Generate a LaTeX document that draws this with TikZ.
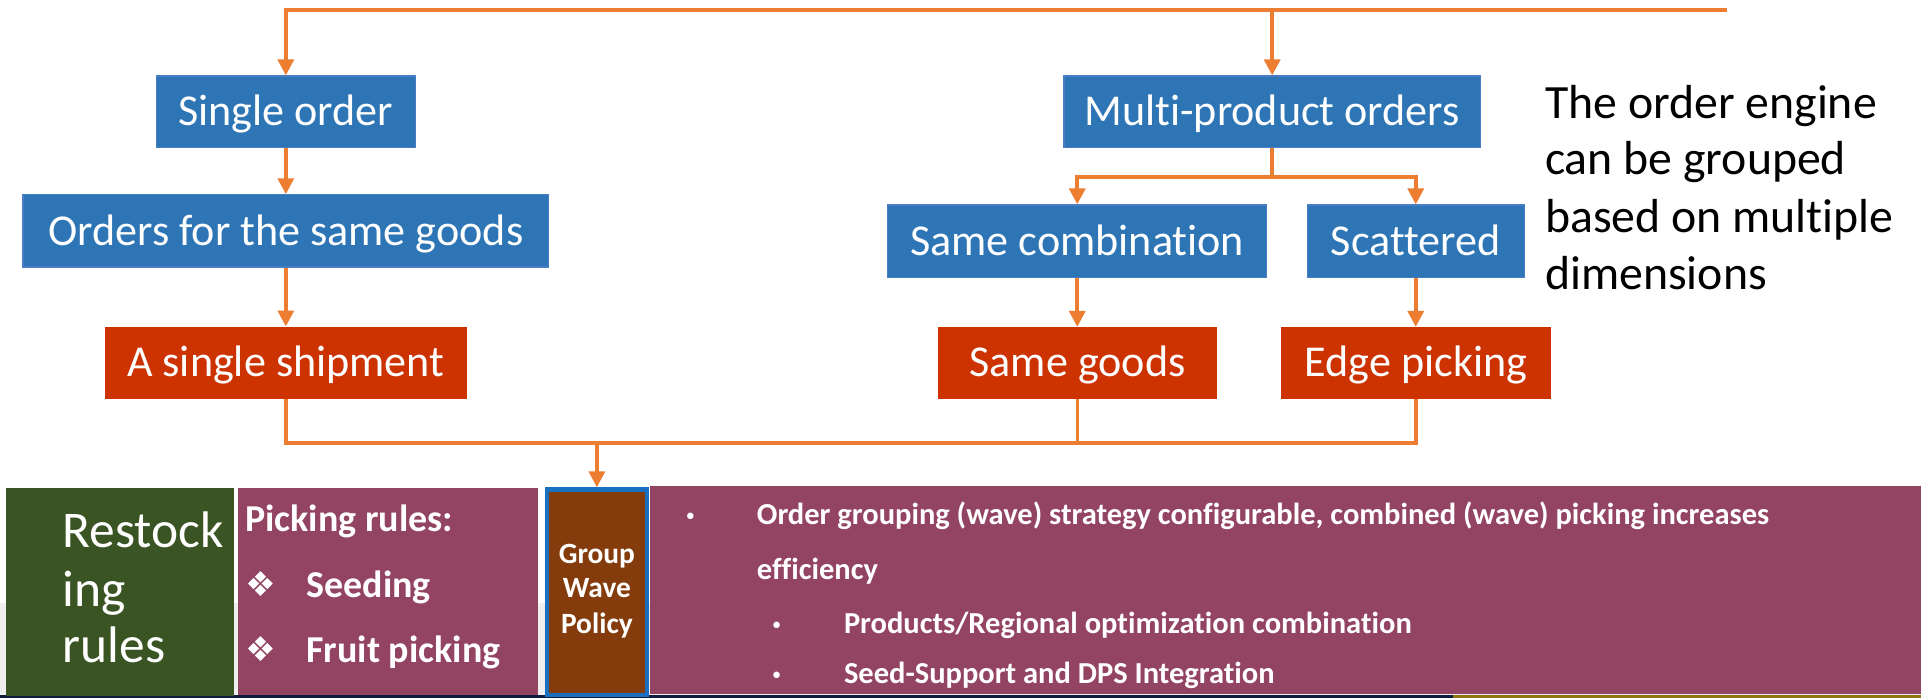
\documentclass[tikz,border=0pt]{standalone}
\usepackage{fontspec}
\setmainfont{Carlito}[Ligatures=CommonOff]
\newfontfamily\symfont{DejaVu Sans}
\usetikzlibrary{arrows.meta}
\definecolor{cblue}{HTML}{2E75B6}
\definecolor{cblueedge}{HTML}{4A7EC4}
\definecolor{cred}{HTML}{CC3300}
\definecolor{corange}{HTML}{ED7D31}
\definecolor{cgreen}{HTML}{3A5424}
\definecolor{cpurple}{HTML}{934462}
\definecolor{cbrown}{HTML}{843C0C}
\definecolor{cbrownedge}{HTML}{1A6FBF}
\definecolor{cnavy}{HTML}{0F1B3C}
\definecolor{cgold}{HTML}{8F7410}
\definecolor{cgray}{HTML}{EFEFEF}
\tikzset{
  boxtext/.style={text=white, font=\fontsize{36}{43}\selectfont, text height=29pt, text depth=6pt, inner sep=0pt},
  bluebox/.style={boxtext, fill=cblue, draw=cblueedge, line width=1pt},
  redbox/.style={boxtext, fill=cred},
  conn/.style={draw=corange, line width=2.9pt},
  arr/.style={conn, -{Triangle[length=13pt,width=13pt]}},
  panel/.style={inner sep=0pt, anchor=north west},
  wtext/.style={text=white, inner sep=0pt, anchor=base west},
  btext/.style={text=black, inner sep=0pt, anchor=base west, font=\fontsize{39}{47}\selectfont},
  bul/.style={text=white, inner sep=0pt, anchor=center, font=\fontsize{15}{18}\selectfont},
}
\begin{document}
\begin{tikzpicture}[x=1pt,y=-1pt]
\useasboundingbox (0,0) rectangle (1568,570);
% background strips
\fill[cgray] (0,492) rectangle (1568,567.5);
\fill[cnavy] (0,567.5) rectangle (1186,570);
\fill[cgold] (1186,567.5) rectangle (1568,570);

% flow boxes
\node[bluebox, minimum width=211.5pt, minimum height=58.5pt] (so) at (233.3,91.3) {Single order};
\node[bluebox, minimum width=429pt, minimum height=59pt] (og) at (233.3,188.5) {Orders for the same goods};
\node[redbox, minimum width=295pt, minimum height=58.7pt] (ss) at (233.3,296) {A single shipment};
\node[bluebox, minimum width=340pt, minimum height=58.5pt] (mp) at (1038.4,91.3) {Multi-product orders};
\node[bluebox, minimum width=309.5pt, minimum height=59pt] (sc) at (879.3,196.8) {Same combination};
\node[bluebox, minimum width=177pt, minimum height=59pt] (sca) at (1155.6,196.8) {Scattered};
\node[redbox, minimum width=227pt, minimum height=58.4pt] (sg) at (879.5,296.2) {Same goods};
\node[redbox, minimum width=220.4pt, minimum height=58.4pt] (ep) at (1155.8,296.2) {Edge picking};

% side text
\node[btext] (t1) at (1261,96.6) {The order engine};
\node[btext] (t2) at (1261,142.8) {can be grouped};
\node[btext] (t3) at (1261,189.6) {based on multiple};
\node[btext] (t4) at (1261,236.7) {dimensions};

% bottom panels
\node[panel, fill=cgreen, minimum width=186.6pt, minimum height=169pt] (rs) at (4.4,398.5) {};
\node[panel, fill=cpurple, minimum width=245pt, minimum height=168.8pt] (pr) at (194,398.5) {};
\node[panel, fill=cpurple, minimum width=1038pt, minimum height=170pt] (og2) at (530,396.5) {};
\node[inner sep=0pt, fill=cbrown, draw=cbrownedge, line width=3.5pt, minimum width=82pt, minimum height=167.8pt] (gwp) at (487.2,483.4) {};

% connectors
\coordinate (topR) at (1410,8.2);
\draw[arr] (topR) -| (so.north);
\draw[arr] (mp.north |- topR) -- (mp.north);
\draw[arr] (so.south) -- (so.south |- og.north);
\draw[arr] (og.south) -- (og.south |- ss.north);
\draw[arr] (mp.south) -- ++(0,23.6) -| (sc.north);
\draw[arr] (mp.south) -- ++(0,23.6) -| (sca.north);
\draw[arr] (sc.south) -- (sc.south |- sg.north);
\draw[arr] (sca.south) -- (sca.south |- ep.north);
\coordinate (j) at (487.2,361.8);
\draw[conn] (ss.south) |- (j) -| (ep.south);
\draw[conn] (sg.south) -- (sg.south |- j);
\draw[arr] (j) -- (gwp.north);

% panel texts
\begin{scope}[font=\fontsize{42}{47}\selectfont]
\node[wtext] (r1) at (51,447) {Restock};
\node[wtext] (r2) at (51,495) {ing};
\node[wtext] (r3) at (51,541) {rules};
\end{scope}
\begin{scope}[font=\fontsize{31}{37}\selectfont\bfseries]
\node[wtext] (p0) at (200,434) {Picking rules:};
\node[wtext, font=\fontsize{28}{32}\selectfont\symfont] (p1b) at (200,487) {❖};
\node[wtext] (p1) at (250,488) {Seeding};
\node[wtext, font=\fontsize{28}{32}\selectfont\symfont] (p2b) at (200,540) {❖};
\node[wtext] (p2) at (250,541) {Fruit picking};
\end{scope}
\begin{scope}[font=\fontsize{24}{28}\selectfont\bfseries]
\node[wtext, anchor=base] (g1) at (487.2,460) {Group};
\node[wtext, anchor=base] (g2) at (487.2,488) {Wave};
\node[wtext, anchor=base] (g3) at (487.2,517) {Policy};
\end{scope}
\node[bul] (b1) at (563.5,422.5) {•};
\node[bul] (b2) at (634,511) {•};
\node[bul] (b3) at (634,551.8) {•};
\begin{scope}[font=\fontsize{24.9}{30}\selectfont\bfseries]
\node[wtext] (l1) at (617.6,428.5) {Order grouping (wave) strategy configurable, combined (wave) picking increases};
\node[wtext] (l2) at (617.6,472.8) {efficiency};
\node[wtext] (l3) at (688.7,517) {Products/Regional optimization combination};
\node[wtext] (l4) at (688.7,557.8) {Seed-Support and DPS Integration};
\end{scope}
\end{tikzpicture}
\end{document}
